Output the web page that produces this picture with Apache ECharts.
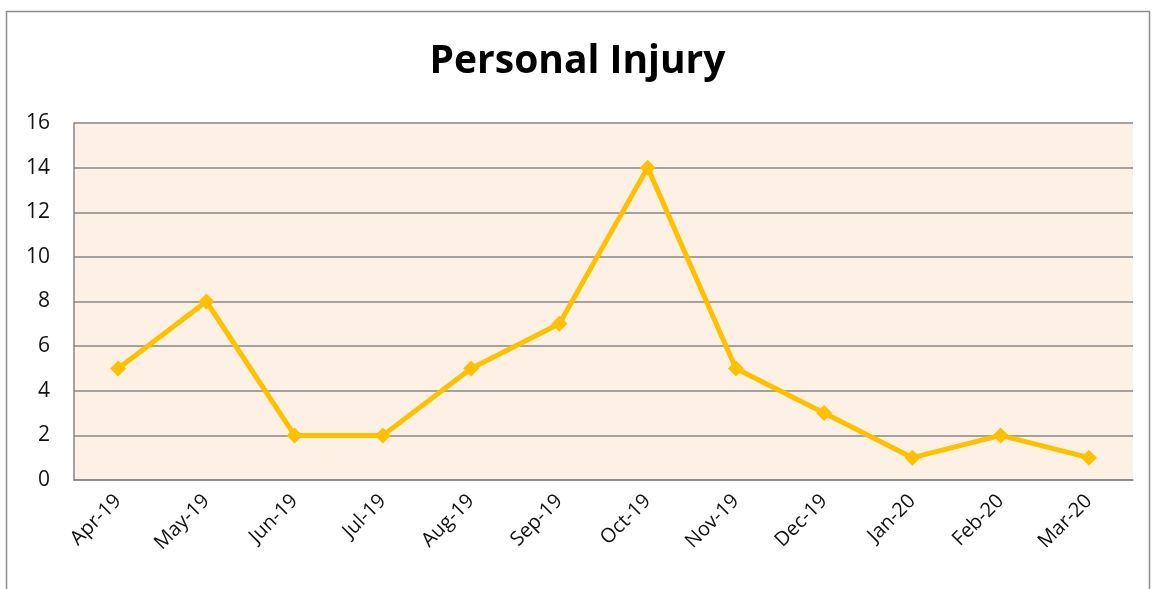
<!DOCTYPE html>
<html>
<head>
<meta charset="utf-8">
<script src="https://cdn.jsdelivr.net/npm/echarts@6/dist/echarts.min.js"></script>
<style>
  html, body { margin: 0; padding: 0; background: #fff; }
  #chart { width: 1155px; height: 589px; }
</style>
</head>
<body>
<div id="chart"></div>
<script>
const months = ['Apr-19', 'May-19', 'Jun-19', 'Jul-19', 'Aug-19', 'Sep-19', 'Oct-19', 'Nov-19', 'Dec-19', 'Jan-20', 'Feb-20', 'Mar-20']
const injuries = [5, 8, 2, 2, 5, 7, 14, 5, 3, 1, 2, 1]

const chart = echarts.init(document.getElementById('chart'))
chart.setOption({
  animation: false,
  textStyle: { fontFamily: 'Open Sans, sans-serif' },
  title: {
    text: 'Personal Injury',
    left: 'center',
    top: 37,
    textStyle: { fontSize: 39, fontWeight: 'bold', color: '#000', fontFamily: 'Open Sans, sans-serif' }
  },
  graphic: [{
    type: 'rect',
    shape: { x: 6.5, y: 11.5, width: 1143, height: 620 },
    style: { fill: 'none', stroke: '#8c8c8c', lineWidth: 1.5 },
    silent: true
  }],
  grid: {
    left: 74, right: 22, top: 123, bottom: 109,
    show: true, backgroundColor: '#fdf1e6', borderWidth: 0
  },
  xAxis: {
    type: 'category',
    data: months,
    boundaryGap: true,
    axisLine: { lineStyle: { color: '#868686', width: 1.5 } },
    axisTick: { show: false },
    axisLabel: { rotate: 45, margin: 18, fontSize: 20, color: '#111', interval: 0 }
  },
  yAxis: {
    type: 'value',
    min: 0, max: 16, interval: 2,
    axisLine: { show: true, lineStyle: { color: '#868686', width: 1.5 } },
    axisTick: { show: false },
    axisLabel: { margin: 24, fontSize: 21, color: '#111' },
    splitLine: { lineStyle: { color: '#868686', width: 1.5 } }
  },
  series: [{
    type: 'line',
    data: injuries,
    lineStyle: { color: '#ffc000', width: 5 },
    itemStyle: { color: '#ffc000' },
    symbol: 'diamond',
    symbolSize: 16
  }]
})
</script>
</body>
</html>
